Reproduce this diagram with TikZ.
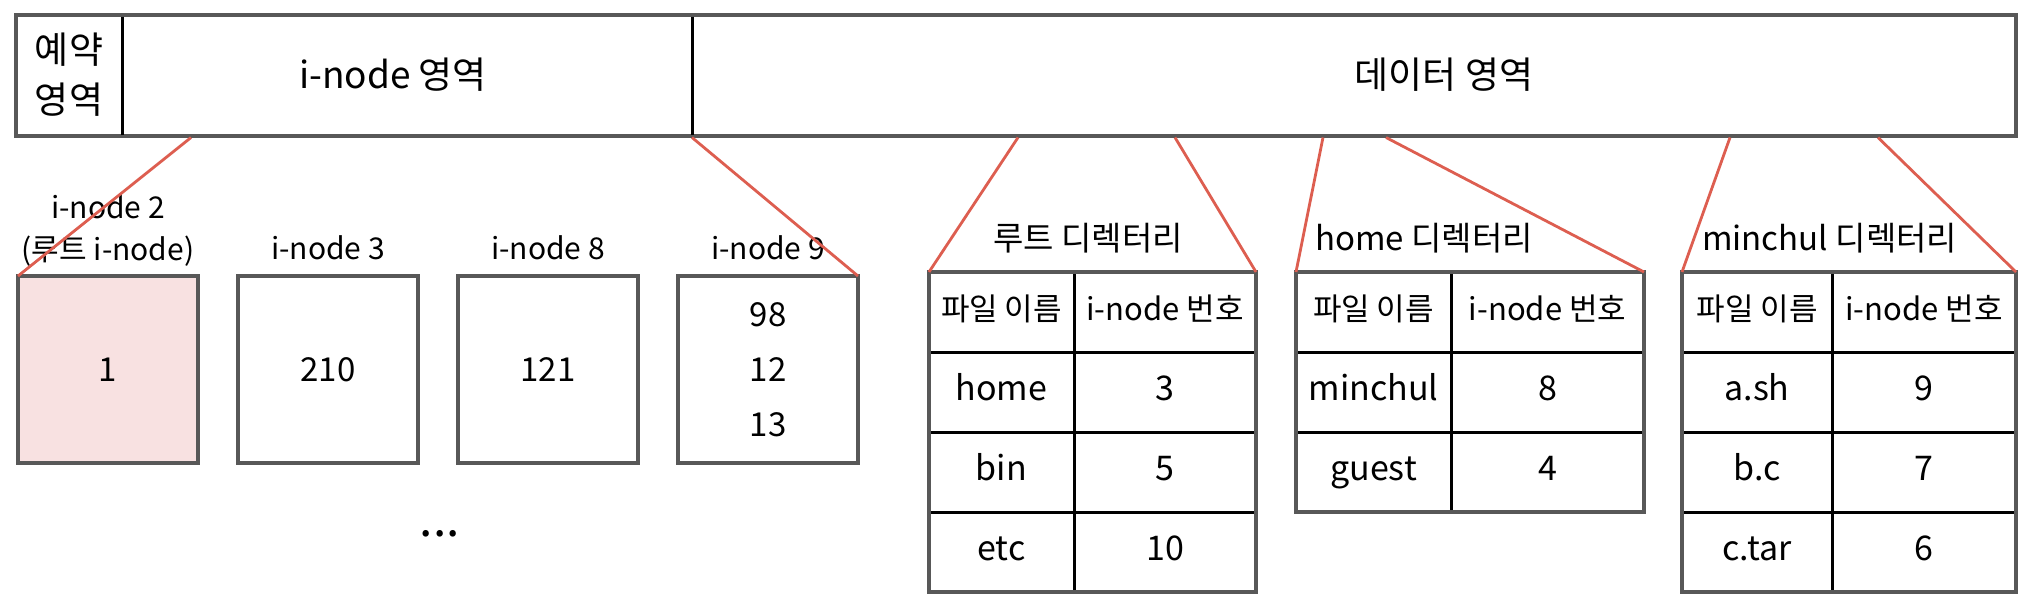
\documentclass[tikz,border=0pt]{standalone}
\usepackage{fontspec}
\setmainfont{Noto Sans CJK KR}
\usepackage{xcolor}
\usetikzlibrary{positioning,calc}

\definecolor{framegray}{RGB}{88,88,88}
\definecolor{linkred}{RGB}{221,94,80}
\definecolor{rootpink}{RGB}{248,225,225}

\begin{document}
\begin{tikzpicture}[
  x=1pt, y=-1pt,
  frame/.style={draw=framegray, line width=3.5pt},
  sep/.style={draw=black, line width=3pt},
  bartext/.style={font=\fontsize{37}{50}\selectfont, align=center},
  inode/.style={frame, minimum width=180pt, minimum height=187pt, inner sep=0pt, outer sep=0pt, font=\fontsize{33}{55}\selectfont, align=center},
  inlabel/.style={font=\fontsize{30}{42}\selectfont, align=center, inner sep=0pt},
  cell/.style={minimum height=80pt, inner sep=0pt, outer sep=0pt, text height=24pt, text depth=7pt, font=\fontsize{34}{38}\selectfont},
  head/.style={cell, font=\fontsize{31}{34}\selectfont},
  title/.style={font=\fontsize{33}{38}\selectfont, inner sep=0pt},
  link/.style={draw=linkred, line width=2.8pt},
]
\useasboundingbox (0,0) rectangle (2042,606);

\node[frame, minimum width=2000pt, minimum height=121pt, inner sep=0pt, outer sep=0pt] (disk) at (1016,75.5) {};
\draw[sep] (122,16.5) -- (122,134.5);
\draw[sep] (692,16.5) -- (692,134.5);
\node[bartext] (rsv) at (69,75) {예약\\영역};
\node[bartext] (inarea) at (393,75) {i-node 영역};
\node[bartext] (dataarea) at (1444,75) {데이터 영역};

\node[inode, fill=rootpink] (in2) at (108,369.5) {1};
\node[inode, right=40pt of in2] (in3) {210};
\node[inode, right=40pt of in3] (in8) {121};
\node[inode, right=40pt of in8] (in9) {98\\12\\13};

\node[inlabel, above=9pt of in2] (lab2) {i-node 2\\(루트 i-node)};
\foreach \b/\t in {in3/3, in8/8, in9/9}
  \node[inlabel, above=16pt of \b] (lab\t) {i-node \t};

\node[font=\fontsize{48}{50}\selectfont, anchor=base] (more) at (440,536) {...};

\node[title] (rtitle) at (1088,238) {루트 디렉터리};
\node[head, minimum width=145pt, anchor=north west] (rn0) at (929,272) {파일 이름};
\node[head, minimum width=182pt, right=0pt of rn0] (ri0) {i-node 번호};
\foreach \f/\n [count=\i] in {home/3, bin/5, etc/10} {
  \pgfmathtruncatemacro\j{\i-1}
  \node[cell, minimum width=145pt, below=0pt of rn\j] (rn\i) {\f};
  \node[cell, minimum width=182pt, right=0pt of rn\i] (ri\i) {\n};
}
\draw[sep] (rn0.north east) -- (rn3.south east);
\foreach \i in {0,1,2} \draw[sep] (rn\i.south west) -- (ri\i.south east);
\draw[frame] (rn0.north west) rectangle (ri3.south east);

\node[title, anchor=west] (htitle) at (1315,238) {home 디렉터리};
\node[head, minimum width=155pt, anchor=north west] (hn0) at (1296,272) {파일 이름};
\node[head, minimum width=193pt, right=0pt of hn0] (hi0) {i-node 번호};
\foreach \f/\n [count=\i] in {minchul/8, guest/4} {
  \pgfmathtruncatemacro\j{\i-1}
  \node[cell, minimum width=155pt, below=0pt of hn\j] (hn\i) {\f};
  \node[cell, minimum width=193pt, right=0pt of hn\i] (hi\i) {\n};
}
\draw[sep] (hn0.north east) -- (hn2.south east);
\foreach \i in {0,1} \draw[sep] (hn\i.south west) -- (hi\i.south east);
\draw[frame] (hn0.north west) rectangle (hi2.south east);

\node[title, anchor=west] (mtitle) at (1702,238) {minchul 디렉터리};
\node[head, minimum width=150pt, anchor=north west] (mn0) at (1682,272) {파일 이름};
\node[head, minimum width=184pt, right=0pt of mn0] (mi0) {i-node 번호};
\foreach \f/\n [count=\i] in {a.sh/9, b.c/7, c.tar/6} {
  \pgfmathtruncatemacro\j{\i-1}
  \node[cell, minimum width=150pt, below=0pt of mn\j] (mn\i) {\f};
  \node[cell, minimum width=184pt, right=0pt of mn\i] (mi\i) {\n};
}
\draw[sep] (mn0.north east) -- (mn3.south east);
\foreach \i in {0,1,2} \draw[sep] (mn\i.south west) -- (mi\i.south east);
\draw[frame] (mn0.north west) rectangle (mi3.south east);

\coordinate (t1) at (191,137.5);
\coordinate (t2) at (692,137.5);
\coordinate (t3) at (1018,137.5);
\coordinate (t4) at (1175,137.5);
\coordinate (t5) at (1323,137.5);
\coordinate (t6) at (1386,137.5);
\coordinate (t7) at (1730,137.5);
\coordinate (t8) at (1878,137.5);
\foreach \c/\e in {t1/in2.north west, t2/in9.north east, t3/rn0.north west, t4/ri0.north east, t5/hn0.north west, t6/hi0.north east, t7/mn0.north west, t8/mi0.north east}
  \draw[link] (\c) -- (\e);
\end{tikzpicture}
\end{document}
